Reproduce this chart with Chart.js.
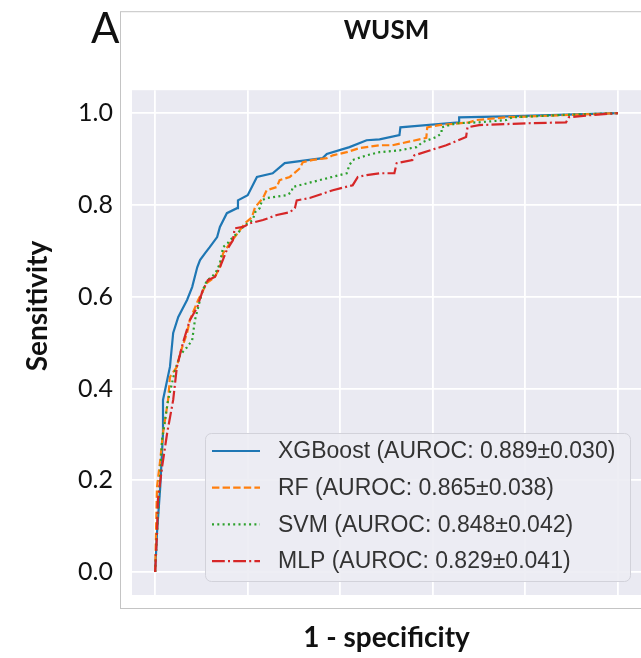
<!DOCTYPE html>
<html>
<head>
<meta charset="utf-8">
<script src="https://cdn.jsdelivr.net/npm/chart.js@4.4.1/dist/chart.umd.min.js"></script>
<style>
    html, body { margin: 0; padding: 0; background: #fff; }
    canvas { display: block; }
</style>
</head>
<body>
<canvas id="roc" width="641" height="658"></canvas>
<script>
// ROC points (1 - specificity, sensitivity)
const xgbFpr = [0, 0.004, 0.011, 0.017, 0.017, 0.032, 0.039, 0.050, 0.069, 0.080, 0.091, 0.097, 0.108, 0.118, 0.134, 0.140, 0.155, 0.177, 0.179, 0.200, 0.220, 0.254, 0.280, 0.362, 0.371, 0.420, 0.457, 0.485, 0.528, 0.530, 0.657, 0.657, 0.760, 1];
const xgbTpr = [0, 0.085, 0.185, 0.303, 0.375, 0.447, 0.521, 0.556, 0.593, 0.621, 0.664, 0.680, 0.695, 0.708, 0.730, 0.752, 0.782, 0.793, 0.810, 0.821, 0.861, 0.869, 0.891, 0.902, 0.911, 0.926, 0.941, 0.943, 0.952, 0.969, 0.980, 0.991, 0.993, 1];

const rfFpr = [0, 0.004, 0.011, 0.017, 0.028, 0.032, 0.047, 0.054, 0.069, 0.075, 0.093, 0.112, 0.129, 0.140, 0.147, 0.162, 0.172, 0.194, 0.209, 0.216, 0.233, 0.241, 0.263, 0.269, 0.291, 0.313, 0.319, 0.341, 0.371, 0.384, 0.414, 0.442, 0.485, 0.513, 0.586, 0.588, 0.614, 0.679, 0.694, 0.759, 1];
const rfTpr = [0, 0.185, 0.244, 0.303, 0.375, 0.425, 0.447, 0.477, 0.521, 0.549, 0.593, 0.630, 0.643, 0.664, 0.695, 0.717, 0.730, 0.760, 0.773, 0.795, 0.815, 0.832, 0.839, 0.854, 0.861, 0.880, 0.893, 0.898, 0.902, 0.908, 0.915, 0.924, 0.930, 0.930, 0.946, 0.969, 0.974, 0.980, 0.985, 0.991, 1];

const svmFpr = [0, 0.004, 0.015, 0.028, 0.043, 0.054, 0.069, 0.080, 0.086, 0.097, 0.103, 0.112, 0.123, 0.134, 0.140, 0.147, 0.157, 0.168, 0.179, 0.190, 0.200, 0.211, 0.216, 0.226, 0.231, 0.241, 0.284, 0.295, 0.297, 0.328, 0.371, 0.414, 0.420, 0.427, 0.457, 0.485, 0.528, 0.565, 0.578, 0.608, 0.619, 0.619, 0.651, 0.700, 0.759, 0.772, 0.879, 1];
const svmTpr = [0, 0.085, 0.288, 0.375, 0.440, 0.473, 0.490, 0.505, 0.549, 0.593, 0.614, 0.636, 0.643, 0.658, 0.673, 0.708, 0.717, 0.730, 0.739, 0.752, 0.760, 0.767, 0.784, 0.793, 0.810, 0.815, 0.821, 0.828, 0.839, 0.847, 0.858, 0.869, 0.887, 0.898, 0.908, 0.915, 0.919, 0.926, 0.937, 0.948, 0.956, 0.969, 0.978, 0.980, 0.985, 0.991, 0.996, 1];

const mlpFpr = [0, 0.004, 0.006, 0.015, 0.026, 0.039, 0.047, 0.060, 0.075, 0.091, 0.103, 0.114, 0.129, 0.140, 0.155, 0.168, 0.172, 0.190, 0.205, 0.233, 0.263, 0.291, 0.302, 0.306, 0.334, 0.384, 0.427, 0.438, 0.457, 0.485, 0.517, 0.522, 0.556, 0.560, 0.629, 0.672, 0.675, 0.700, 0.808, 0.888, 0.894, 0.944, 1];
const mlpTpr = [0, 0.085, 0.157, 0.229, 0.303, 0.375, 0.447, 0.499, 0.549, 0.577, 0.614, 0.636, 0.643, 0.664, 0.702, 0.723, 0.749, 0.752, 0.760, 0.767, 0.778, 0.784, 0.793, 0.810, 0.815, 0.832, 0.843, 0.861, 0.865, 0.869, 0.869, 0.891, 0.898, 0.908, 0.930, 0.948, 0.969, 0.974, 0.978, 0.980, 0.991, 0.996, 1];

const seriesLabels = [
    'XGBoost (AUROC: 0.889\u00b10.030)',
    'RF (AUROC: 0.865\u00b10.038)',
    'SVM (AUROC: 0.848\u00b10.042)',
    'MLP (AUROC: 0.829\u00b10.041)',
];
const xTicks = [0, 0.2, 0.4, 0.6, 0.8, 1.0];
const yTicks = [0, 0.2, 0.4, 0.6, 0.8, 1.0];

const colors = ['#1f77b4', '#ff7f0e', '#2ca02c', '#d62728'];
const dashes = [[], [7.4, 3.2], [2, 3.3], [12.8, 3.2, 2, 3.2]];

const toPoints = (xs, ys) => xs.map((x, i) => ({ x, y: ys[i] }));
const curves = [
    toPoints(xgbFpr, xgbTpr),
    toPoints(rfFpr, rfTpr),
    toPoints(svmFpr, svmTpr),
    toPoints(mlpFpr, mlpTpr),
];

// plot background, outer frame, panel letter, y title and legend box
const decor = {
    id: 'decor',
    beforeDraw(chart) {
        const { ctx, chartArea: a } = chart;
        ctx.save();
        ctx.fillStyle = '#ffffff';
        ctx.fillRect(0, 0, chart.width, chart.height);
        ctx.strokeStyle = '#c4c4c4';
        ctx.lineWidth = 1;
        ctx.strokeRect(a.left - 11.5, a.top - 78.5, chart.width, a.bottom - a.top + 92);
        ctx.fillStyle = '#eaeaf2';
        ctx.fillRect(a.left, a.top, a.right - a.left, a.bottom - a.top);
        ctx.restore();
    },
    afterDraw(chart) {
        const { ctx, chartArea: a } = chart;
        ctx.save();
        ctx.fillStyle = '#111';
        ctx.font = '42px Lato';
        ctx.textAlign = 'left';
        ctx.textBaseline = 'alphabetic';
        ctx.fillText('A', 91, 43);

        ctx.translate(38, 306);
        ctx.rotate(-Math.PI / 2);
        ctx.font = 'bold 28px Lato';
        ctx.textAlign = 'center';
        ctx.textBaseline = 'middle';
        ctx.fillText('Sensitivity', 0, 0);
        ctx.restore();

        // legend
        const w = 425, h = 148;
        const x0 = a.right - 11 - w, y0 = a.bottom - 14 - h;
        ctx.save();
        ctx.fillStyle = 'rgba(236,236,243,0.9)';
        ctx.strokeStyle = '#d2d2da';
        ctx.lineWidth = 1;
        ctx.beginPath();
        ctx.roundRect(x0 + 0.5, y0 + 0.5, w, h, 6);
        ctx.fill();
        ctx.stroke();
        ctx.font = '23px "Liberation Sans"';
        ctx.textBaseline = 'middle';
        ctx.textAlign = 'left';
        chart.data.datasets.forEach((ds, i) => {
            const ry = y0 + 18 + i * 36.7;
            ctx.strokeStyle = ds.borderColor;
            ctx.lineWidth = 2.2;
            ctx.setLineDash(ds.borderDash);
            ctx.beginPath();
            ctx.moveTo(x0 + 7, ry);
            ctx.lineTo(x0 + 55, ry);
            ctx.stroke();
            ctx.setLineDash([]);
            ctx.fillStyle = '#333333';
            ctx.fillText(ds.label, x0 + 73, ry + 1);
        });
        ctx.restore();
    },
};

new Chart(document.getElementById('roc'), {
    type: 'line',
    data: {
        datasets: curves.map((pts, i) => ({
            label: seriesLabels[i],
            data: pts,
            borderColor: colors[i],
            backgroundColor: colors[i],
            borderWidth: 2.2,
            borderDash: dashes[i],
            pointRadius: 0,
            tension: 0,
            fill: false,
            order: 4 - i,
        })),
    },
    options: {
        responsive: false,
        animation: false,
        devicePixelRatio: 1,
        layout: { padding: { top: 0, right: 0, bottom: 0, left: 0 } },
        plugins: {
            legend: { display: false },
            tooltip: { enabled: false },
            title: {
                display: true,
                text: 'WUSM',
                fullSize: false,
                color: '#111',
                font: { family: 'Lato', size: 26, weight: 'bold', lineHeight: 1.2 },
                padding: { top: 15, bottom: 44 },
            },
        },
        scales: {
            x: {
                type: 'linear',
                min: -0.05,
                max: 1.05,
                afterBuildTicks: s => { s.ticks = xTicks.map(v => ({ value: v })); },
                afterFit: s => { s.height = 63; },
                ticks: { display: false },
                grid: { color: '#ffffff', lineWidth: 1.8, drawTicks: false },
                border: { display: false },
                title: {
                    display: true,
                    text: '1 - specificity',
                    color: '#111',
                    font: { family: 'Lato', size: 28, weight: 'bold', lineHeight: 1.2 },
                    padding: { top: 0, bottom: 3 },
                },
            },
            y: {
                type: 'linear',
                min: -0.05,
                max: 1.05,
                afterBuildTicks: s => { s.ticks = yTicks.map(v => ({ value: v })); },
                afterFit: s => { s.width = 132; },
                ticks: {
                    padding: 19,
                    color: '#111',
                    font: { family: 'Lato', size: 25 },
                    callback: v => v.toFixed(1),
                },
                grid: { color: '#ffffff', lineWidth: 1.8, drawTicks: false },
                border: { display: false },
            },
        },
    },
    plugins: [decor],
});
</script>
</body>
</html>
